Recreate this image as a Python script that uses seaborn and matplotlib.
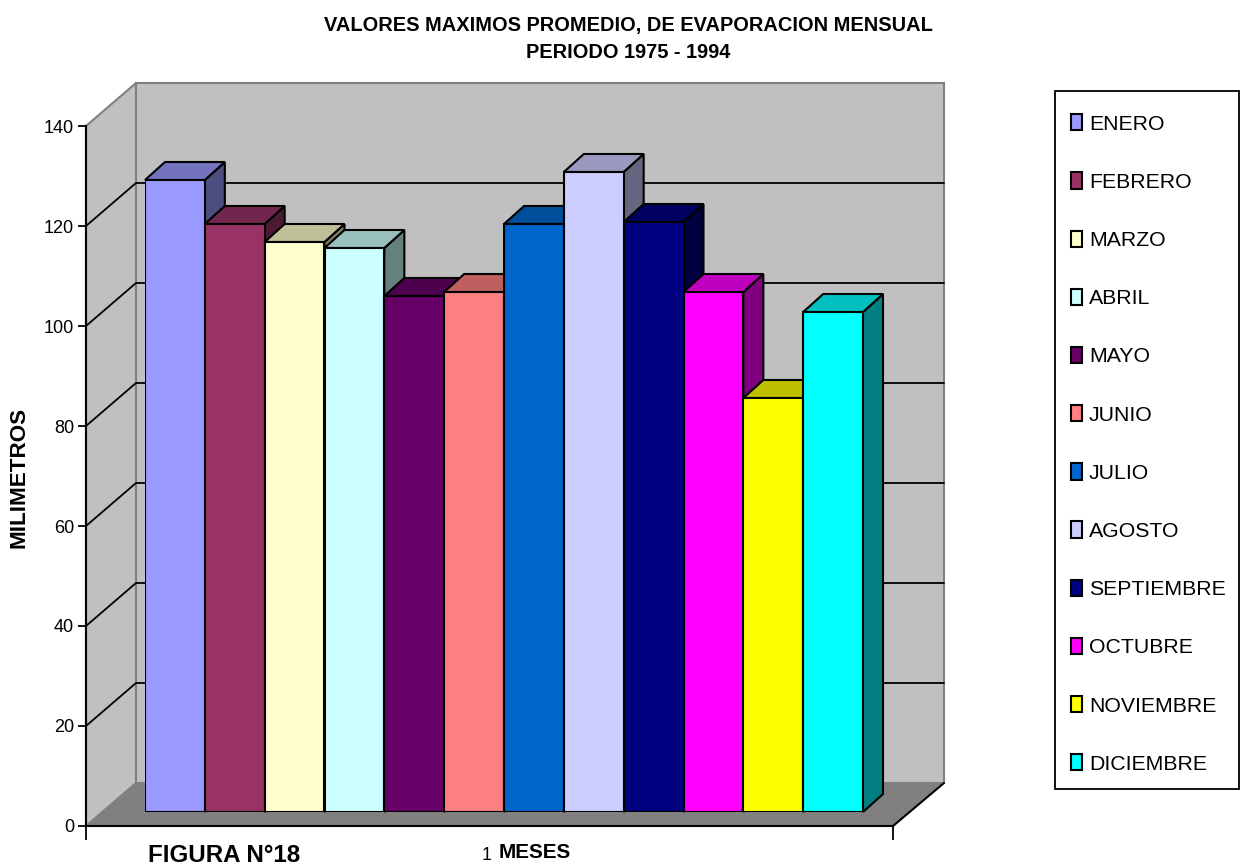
import matplotlib
matplotlib.use("Agg")
import matplotlib.pyplot as plt
from matplotlib.patches import Patch, Polygon, Rectangle
import seaborn as sns

months = ["ENERO", "FEBRERO", "MARZO", "ABRIL", "MAYO", "JUNIO", "JULIO", "AGOSTO",
          "SEPTIEMBRE", "OCTUBRE", "NOVIEMBRE", "DICIEMBRE"]
evaporation = [126.4, 117.6, 114.0, 112.8, 103.2, 104.0, 117.6, 128.0, 118.0, 104.0, 82.8, 100.0]
colors = ["#9999FF", "#993366", "#FFFFCC", "#CCFFFF", "#660066", "#FF8080",
          "#0066CC", "#CCCCFF", "#000080", "#FF00FF", "#FFFF00", "#00FFFF"]
y_ticks = [0, 20, 40, 60, 80, 100, 120, 140]

W, H = 1242, 868
WALL = "#C0C0C0"
FLOOR = "#808080"


def axes_from_px(left, right, top, bottom, **kwargs):
    return fig.add_axes([left / W, 1 - bottom / H, (right - left) / W, (bottom - top) / H], **kwargs)


def shade(color, factor):
    r, g, b = matplotlib.colors.to_rgb(color)
    return (r * factor, g * factor, b * factor)


sns.set_style("white")
plt.rcParams["font.family"] = ["Liberation Sans", "DejaVu Sans"]

fig = plt.figure(figsize=(W / 100, H / 100), dpi=100)

# box behind the bars: front edge of the axis, with walls going back
frame_ax = axes_from_px(86, 893, 126, 826, zorder=1)
frame_ax.set_xlim(0, 807)
frame_ax.set_ylim(0, 140)
frame_ax.patch.set_visible(False)
back_x, back_y = 50, 8.6

frame_ax.add_patch(Polygon([(0, 0), (back_x, back_y), (back_x, 140 + back_y), (0, 140)],
                           fc=WALL, ec=FLOOR, lw=1.5, clip_on=False))
frame_ax.add_patch(Polygon([(back_x, back_y), (807 + back_x + 1, back_y), (807 + back_x + 1, 140 + back_y),
                            (back_x, 140 + back_y)],
                           fc=WALL, ec=FLOOR, lw=1.5, clip_on=False))
frame_ax.add_patch(Polygon([(0, 0), (807, 0), (807 + back_x + 1, back_y), (back_x, back_y)],
                           fc=FLOOR, ec="none", clip_on=False))
frame_ax.plot([807, 807 + back_x + 1], [0, back_y], color="black", lw=1.5, clip_on=False)
for val in y_ticks[1:-1]:
    frame_ax.plot([0, back_x, 807 + back_x + 1], [val, val + back_y, val + back_y],
                  color="black", lw=1.3, clip_on=False)

sns.despine(ax=frame_ax, top=True, right=True)
for side in ["left", "bottom"]:
    frame_ax.spines[side].set_color("black")
    frame_ax.spines[side].set_linewidth(1.5)
frame_ax.set_yticks(y_ticks)
frame_ax.set_xticks([0, 807])
frame_ax.set_xticklabels([])
frame_ax.tick_params(axis="y", left=True, length=5.5, width=1.3, labelsize=13, pad=3, color="black",
                     labelcolor="black")
frame_ax.tick_params(axis="x", bottom=True, length=10, width=1.3, color="black")

# bars
bar_ax = axes_from_px(145, 863, 112, 812, zorder=2)
bar_ax.patch.set_visible(False)
sns.barplot(x=months, y=evaporation, hue=months, palette=colors, width=1, dodge=False, legend=False,
            saturation=1, edgecolor="black", linewidth=1.5, ax=bar_ax, zorder=5)
bar_ax.set_xlim(-0.5, 11.5)
bar_ax.set_ylim(0, 140)
bar_ax.axis("off")

dx, dy = 20 * 12 / 718, 18 / 5
for i, (val, color) in enumerate(zip(evaporation, colors)):
    x0, x1 = i - 0.5, i + 0.5
    bar_ax.add_patch(Polygon([(x1, 0), (x1 + dx, dy), (x1 + dx, val + dy), (x1, val)],
                             fc=shade(color, 0.5), ec="black", lw=1.5, zorder=2 + i * 0.01, clip_on=False))
    bar_ax.add_patch(Polygon([(x0, val), (x0 + dx, val + dy), (x1 + dx, val + dy), (x1, val)],
                             fc=shade(color, 0.75), ec="black", lw=1.5, zorder=2 + i * 0.01, clip_on=False))

# legend, the frame is a separate box so it can have the exact size
fig.add_artist(Rectangle((1055 / W, 1 - 789 / H), 184 / W, 698 / H, transform=fig.transFigure,
                         fc="white", ec="black", lw=1.3))
handles = [Patch(fc=c, ec="black", lw=1.5, label=m) for m, c in zip(months, colors)]
fig.legend(handles=handles, loc="upper left", bbox_to_anchor=(1055 / W, 1 - 98 / H), fontsize=15.3,
           frameon=False, handlelength=0.52, handleheight=0.8,
           handletextpad=0.32, labelspacing=1.82, borderaxespad=0, borderpad=0.76, labelcolor="black")

# titles and labels
fig.text(628 / W, 1 - 26 / H, "VALORES MAXIMOS PROMEDIO, DE EVAPORACION MENSUAL", ha="center", va="center",
         fontsize=14.4, fontweight="bold", color="black")
fig.text(628 / W, 1 - 53 / H, "PERIODO 1975 - 1994", ha="center", va="center",
         fontsize=14.4, fontweight="bold", color="black")
fig.text(19 / W, 1 - 477 / H, "MILIMETROS", rotation=90, ha="center", va="center",
         fontsize=16.2, fontweight="bold", color="black")
fig.text(487 / W, 1 - 856 / H, "1", ha="center", va="center", fontsize=13, color="black")
fig.text(499 / W, 1 - 852 / H, "MESES", ha="left", va="center", fontsize=14.9, fontweight="bold", color="black")
fig.text(148 / W, 1 - 855 / H, "FIGURA N°18", ha="left", va="center", fontsize=17.4, fontweight="bold",
         color="black")

fig.savefig("out.png", dpi=100)
